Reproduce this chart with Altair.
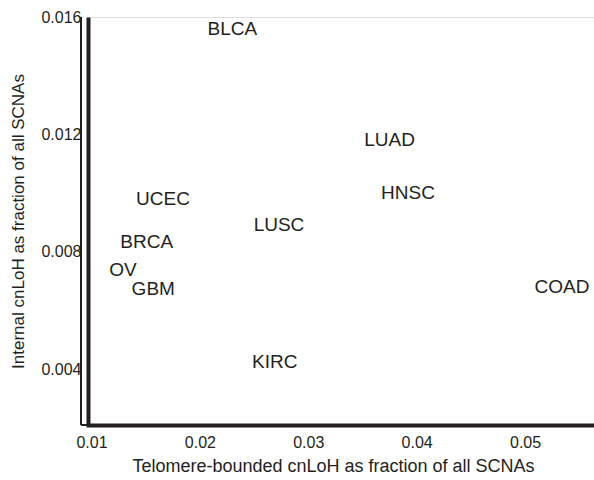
import altair as alt
import pandas as pd

# Data
cancer_types = ["BLCA", "LUAD", "HNSC", "UCEC", "LUSC", "BRCA", "OV", "GBM", "COAD", "KIRC"]
telomere_bounded = [0.0230, 0.0375, 0.0392, 0.0166, 0.0273, 0.0151, 0.0129, 0.0157, 0.0534, 0.0269]
internal = [0.01559, 0.01180, 0.01000, 0.00980, 0.00892, 0.00834, 0.00739, 0.00675, 0.00681, 0.00424]

x_ticks = [0.01, 0.02, 0.03, 0.04, 0.05]
y_ticks = [0.004, 0.008, 0.012, 0.016]

df = pd.DataFrame({"type": cancer_types, "tele": telomere_bounded, "internal": internal})

W, H = 506, 408
INK = "#231f20"
FONT = "Liberation Sans"

xs = alt.Scale(domain=[0.00968, 0.05636], nice=False, zero=False)
ys = alt.Scale(domain=[0.0021, 0.0160], nice=False, zero=False)

labels = alt.Chart(df).mark_text(
    fontSize=19, font=FONT, color=INK, align="center", baseline="middle"
).encode(
    x=alt.X("tele:Q", scale=xs, axis=alt.Axis(
        values=x_ticks, format=".2f", labelExpr="format(datum.value, '.2~f')",
        title="Telomere-bounded cnLoH as fraction of all SCNAs",
        grid=False, ticks=False, domainWidth=4, domainColor=INK, domainCap="square",
        labelFont=FONT, labelFontSize=16, labelColor=INK, labelPadding=9,
        titleFont=FONT, titleFontSize=18, titleFontWeight="normal", titleColor=INK,
        titlePadding=7, titleX=245,
    )),
    y=alt.Y("internal:Q", scale=ys, axis=alt.Axis(
        values=y_ticks, format=".3f",
        title="Internal cnLoH as fraction of all SCNAs",
        grid=False, ticks=False, domainWidth=4, domainColor=INK,
        labelFont=FONT, labelFontSize=16, labelColor=INK, labelPadding=7,
        titleFont=FONT, titleFontSize=17, titleFontWeight="normal", titleColor=INK,
        titlePadding=13,
    )),
    text="type:N",
)

# thin outer line left of the thick y axis
thin_v = alt.Chart(df).mark_rule(color=INK, strokeWidth=1.2).encode(
    x=alt.value(-7), y=alt.value(0), y2=alt.value(H)
)
thin_h = alt.Chart(df).mark_rule(color=INK, strokeWidth=1.2).encode(
    x=alt.value(-7), x2=alt.value(0), y=alt.value(H)
)

chart = alt.layer(thin_v, thin_h, labels).properties(
    width=W, height=H,
    padding={"left": 88, "top": 17, "right": 0, "bottom": 55},
    autosize=alt.AutoSizeParams(type="none"),
).configure_view(stroke=None).configure(background="white")

chart.save("out.html", embed_options={"renderer": "svg", "actions": False})
